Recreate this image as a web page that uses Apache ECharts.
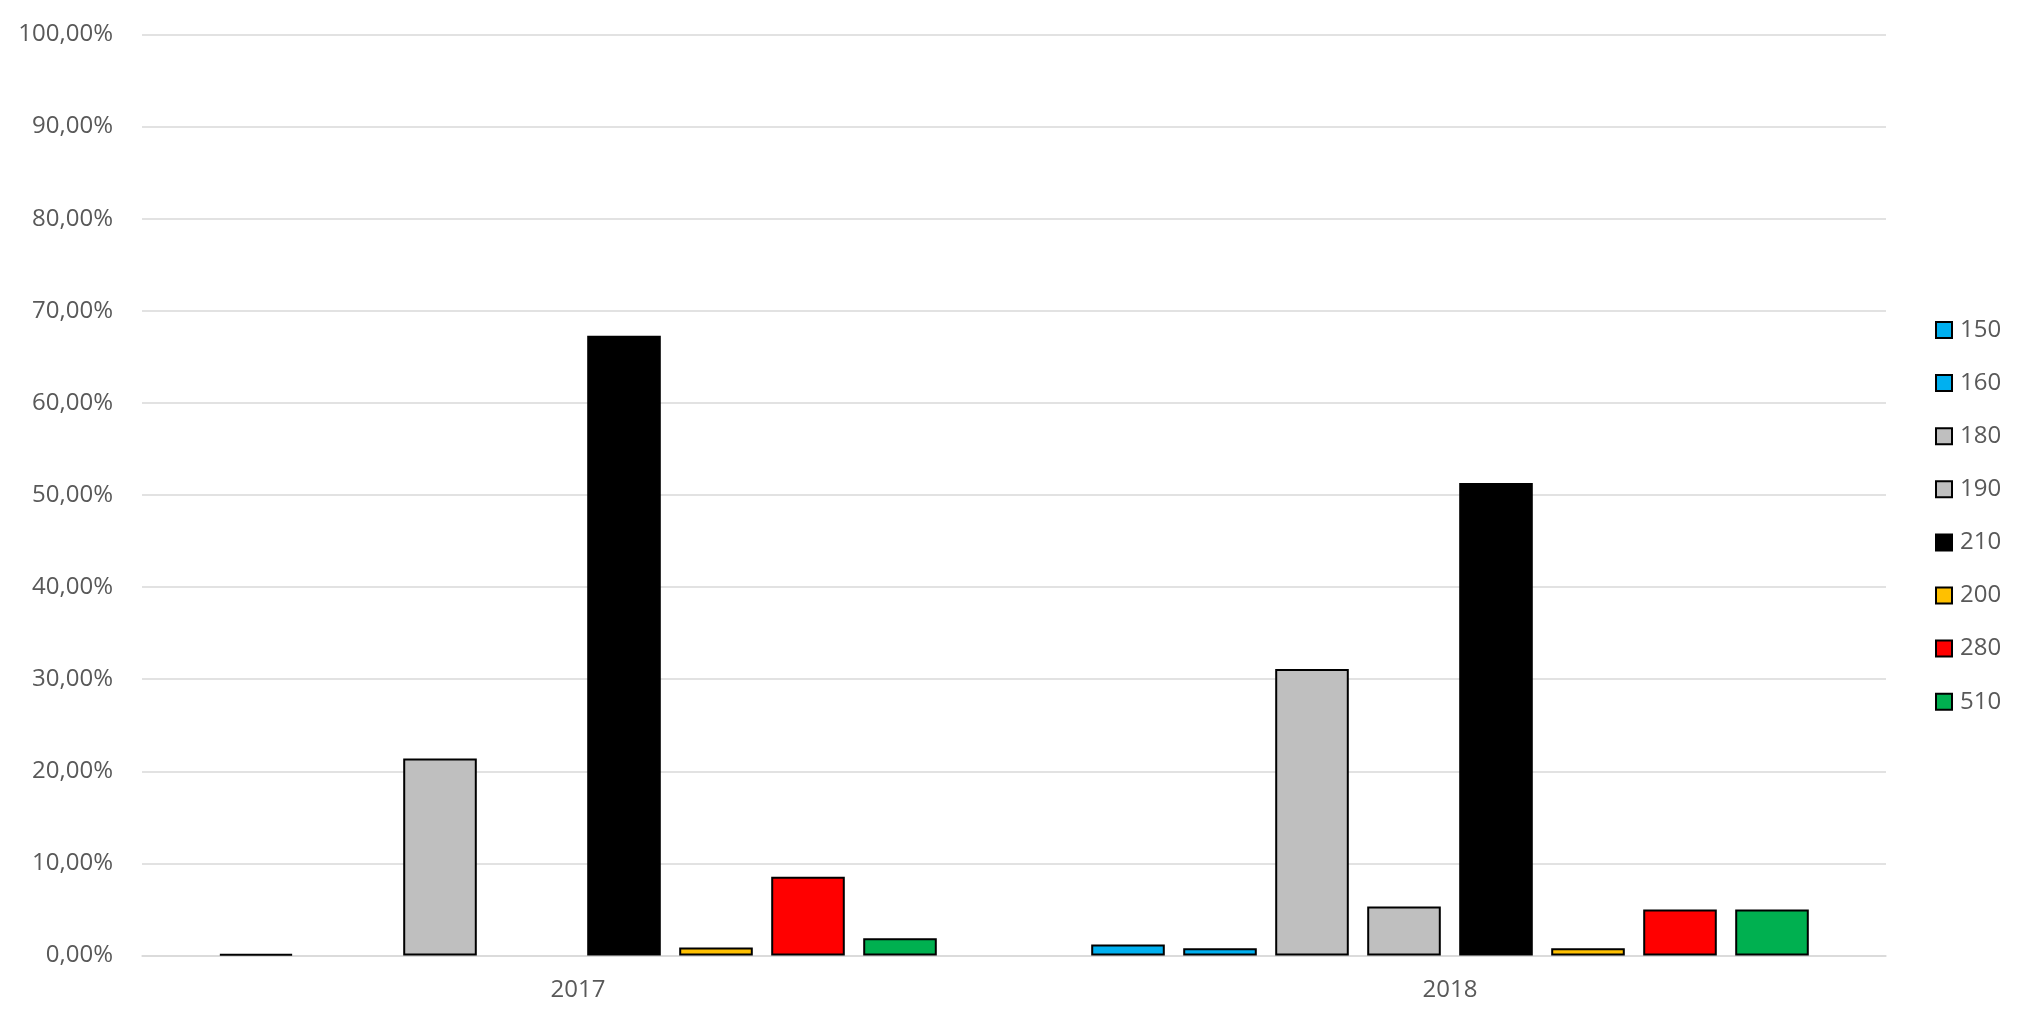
<!DOCTYPE html>
<html>
<head>
<meta charset="utf-8">
<script src="https://cdn.jsdelivr.net/npm/echarts@6/dist/echarts.min.js"></script>
<style>
html,body{margin:0;padding:0;background:#fff;}
#chart{width:2026px;height:1022px;}
</style>
</head>
<body>
<div id="chart"></div>
<script>
const categories = ['2017', '2018'];
const seriesNames = ['150', '160', '180', '190', '210', '200', '280', '510'];
const seriesColors = ['#00B0F0', '#00B0F0', '#BFBFBF', '#BFBFBF', '#000000', '#FFC000', '#FF0000', '#00B050'];
const s150 = [0.14, 1.19];
const s160 = [null, 0.79];
const s180 = [21.4, 31.1];
const s190 = [null, 5.32];
const s210 = [67.3, 51.3];
const s200 = [0.86, 0.79];
const s280 = [8.56, 5.0];
const s510 = [1.87, 5.0];
const seriesValues = [s150, s160, s180, s190, s210, s200, s280, s510];

const chart = echarts.init(document.getElementById('chart'), null, {renderer: 'canvas'});
const font = 'Open Sans, Liberation Sans, sans-serif';
chart.setOption({
  animation: false,
  backgroundColor: '#fff',
  grid: {left: 142, right: 2026 - 1886, top: 34.5, bottom: 1022 - 955.5, containLabel: false},
  legend: {
    orient: 'vertical',
    left: 1930,
    top: 313,
    itemWidth: 16,
    itemHeight: 16,
    itemGap: 29.1,
    icon: 'rect',
    textStyle: {fontSize: 24, color: '#595959', fontFamily: font, lineHeight: 16, padding: [0, 0, 0, 3]},
    data: seriesNames
  },
  xAxis: {
    type: 'category',
    data: categories,
    axisLine: {lineStyle: {color: '#D9D9D9', width: 1.5}},
    axisTick: {show: false},
    axisLabel: {fontSize: 24, color: '#595959', fontFamily: font, margin: 23}
  },
  yAxis: {
    type: 'value',
    min: 0,
    max: 100,
    interval: 10,
    axisLine: {show: false},
    axisTick: {show: false},
    splitLine: {lineStyle: {color: '#D9D9D9', width: 1.5}},
    axisLabel: {
      fontSize: 24, color: '#595959', fontFamily: font, margin: 29,
      formatter: v => v.toFixed(2).replace('.', ',') + '%'
    }
  },
  series: seriesNames.map((n, i) => ({
    name: n,
    type: 'bar',
    data: seriesValues[i],
    barWidth: 73.6,
    barGap: '25%',
    itemStyle: {color: seriesColors[i], borderColor: '#000', borderWidth: 2}
  }))
});
</script>
</body>
</html>
